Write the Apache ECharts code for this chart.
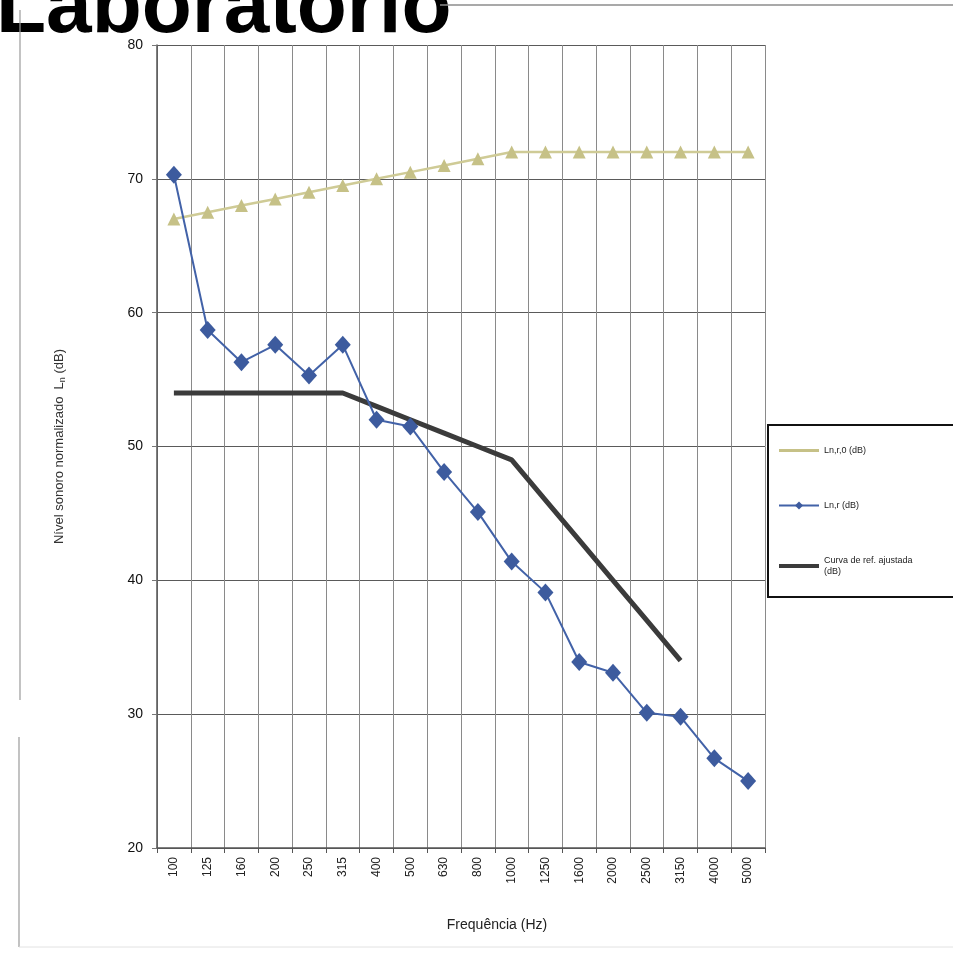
<!DOCTYPE html>
<html>
<head>
<meta charset="utf-8">
<script src="https://cdn.jsdelivr.net/npm/echarts@6/dist/echarts.min.js"></script>
<style>html,body{margin:0;padding:0;background:#fff}#c{width:953px;height:956px}</style>
</head>
<body>
<div id="c"></div>
<script>
const categories = ['100','125','160','200','250','315','400','500','630','800','1000','1250','1600','2000','2500','3150','4000','5000'];
const lnr0 = [67,67.5,68,68.5,69,69.5,70,70.5,71,71.5,72,72,72,72,72,72,72,72];
const lnr = [70.3,58.7,56.3,57.6,55.3,57.6,52.0,51.5,48.1,45.1,41.4,39.1,33.9,33.1,30.1,29.8,26.7,25.0];
const refCurve = [54,54,54,54,54,54,53,52,51,50,49,46,43,40,37,34,null,null];
const yTicks = {min:20, max:80, interval:10};
const seriesNames = ['Ln,r,0 (dB)','Ln,r (dB)','Curva de ref. ajustada\n(dB)'];

const FONT = '"Liberation Sans", Arial, sans-serif';
const chart = echarts.init(document.getElementById('c'), null, {renderer:'canvas'});
chart.setOption({
  animation:false,
  backgroundColor:'#fff',
  textStyle:{fontFamily:FONT},
  grid:{left:157, right:188, top:45, bottom:108, containLabel:false},
  legend:{
    orient:'vertical', left:768, top:425,
    data:[
      {name:seriesNames[0], icon:'path://M0,0 L40,0 L40,3 L0,3 Z'},
      {name:seriesNames[1]},
      {name:seriesNames[2], icon:'path://M0,0 L40,0 L40,4 L0,4 Z'}
    ],
    itemWidth:40, itemHeight:10, itemGap:44,
    padding:[20,60,20,10],
    borderColor:'#111', borderWidth:2,
    textStyle:{fontSize:9, color:'#222', fontFamily:FONT, lineHeight:11}
  },
  xAxis:{
    type:'category', data:categories, boundaryGap:true,
    axisLine:{lineStyle:{color:'#555', width:1.5}},
    axisTick:{show:true, length:5, lineStyle:{color:'#555'}},
    splitLine:{show:true, lineStyle:{color:'#8a8a8a', width:1}},
    axisLabel:{rotate:90, fontSize:12, color:'#222', margin:9, fontFamily:FONT},
    name:'Frequência (Hz)', nameLocation:'middle', nameGap:70,
    nameTextStyle:{fontSize:14, color:'#222', padding:[0,0,0,72], fontFamily:FONT}
  },
  yAxis:{
    type:'value', min:yTicks.min, max:yTicks.max, interval:yTicks.interval,
    axisLine:{show:true, lineStyle:{color:'#555', width:1.5}},
    axisTick:{show:true, length:5, lineStyle:{color:'#777'}},
    splitLine:{show:true, lineStyle:{color:'#5a5a5a', width:1}},
    axisLabel:{fontSize:14, color:'#111', margin:14, fontFamily:FONT},
    name:'{a|Nível sonoro normalizado  L}{s|n}{a| (dB)}', nameLocation:'middle', nameGap:90,
    nameTextStyle:{fontFamily:FONT, rich:{a:{fontSize:13,color:'#333',fontFamily:FONT}, s:{fontSize:9,color:'#333',verticalAlign:'bottom',padding:[6,0,0,0],fontFamily:FONT}}}
  },
  graphic:[
    {type:'text', x:-4, y:50, style:{text:'Laboratório', fontSize:82, fontWeight:'bold', fontFamily:FONT, fill:'#000', verticalAlign:'bottom'}},
    {type:'line', shape:{x1:440,y1:5,x2:953,y2:5}, style:{stroke:'#8d8d8d', lineWidth:1.5}},
    {type:'line', shape:{x1:20,y1:10,x2:20,y2:700}, style:{stroke:'#9a9a9a', lineWidth:1.2}},
    {type:'line', shape:{x1:19,y1:737,x2:19,y2:947}, style:{stroke:'#9a9a9a', lineWidth:1.2}},
    {type:'line', shape:{x1:19,y1:947,x2:953,y2:947}, style:{stroke:'#e2e2e2', lineWidth:1}}
  ],
  series:[
    {name:seriesNames[0], type:'line', data:lnr0, symbol:'triangle', symbolSize:13,
     itemStyle:{color:'#c6c187'}, lineStyle:{color:'#cfcb96', width:2.5}, z:3},
    {name:seriesNames[1], type:'line', data:lnr, symbol:'diamond', symbolSize:[16,18],
     itemStyle:{color:'#3d5b9e'}, lineStyle:{color:'#4262a8', width:2}, z:4},
    {name:seriesNames[2], type:'line', data:refCurve, symbol:'none', connectNulls:false,
     itemStyle:{color:'#3b3b3b'}, lineStyle:{color:'#3b3b3b', width:5}, z:2}
  ]
});
</script>
</body>
</html>
